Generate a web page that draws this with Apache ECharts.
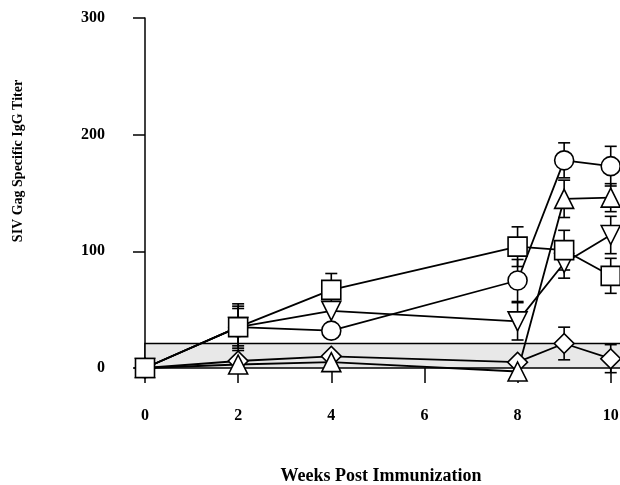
<!DOCTYPE html>
<html><head><meta charset="utf-8">
<script src="https://cdn.jsdelivr.net/npm/echarts@6/dist/echarts.min.js"></script>
<style>html,body{margin:0;padding:0;background:#fff}#c{width:620px;height:485px}</style>
</head><body><div id="c"></div>
<script>
var weeks = [0, 2, 4, 8, 9, 10];
var yTicks = [0, 100, 200, 300];
var circleVals = [0, 35, 32, 75, 178, 173];
var circleErr  = [0, 20, 0, 18, 15, 17];
var squareVals = [0, 35, 67, 104, 101, 79];
var squareErr  = [0, 18, 14, 17, 17, 15];
var upTriVals  = [0, 3, 5, -3, 145, 146];
var upTriErr   = [0, 0, 0, 0, 16, 12];
var downTriVals = [0, 35, 49, 40, 90, 114];
var downTriErr  = [0, 16, 0, 16, 13, 16];
var diamondVals = [0, 6, 10, 5, 21, 8];
var diamondErr  = [0, 0, 0, 0, 14, 12];
var bandRange = [0, 21];

var font = '"Liberation Serif", "Times New Roman", serif';
var chart = echarts.init(document.getElementById('c'));

function pts(vals){ return weeks.map(function(w,i){ return [w, vals[i]]; }); }
function errs(vals, e){ return weeks.map(function(w,i){ return [w, vals[i]-e[i], vals[i]+e[i], e[i]]; }).filter(function(d){return d[3]>0;}); }

function errSeries(vals, e){
  return {
    type: 'custom', z: 2, clip: false,
    data: errs(vals, e),
    renderItem: function(params, api){
      var lo = api.coord([api.value(0), api.value(1)]);
      var hi = api.coord([api.value(0), api.value(2)]);
      var cw = 6;
      var st = {stroke: '#000', lineWidth: 1.6};
      return {type: 'group', children: [
        {type: 'line', shape: {x1: lo[0], y1: lo[1], x2: hi[0], y2: hi[1]}, style: st},
        {type: 'line', shape: {x1: lo[0]-cw, y1: lo[1], x2: lo[0]+cw, y2: lo[1]}, style: st},
        {type: 'line', shape: {x1: hi[0]-cw, y1: hi[1], x2: hi[0]+cw, y2: hi[1]}, style: st}
      ]};
    }
  };
}
function lineSeries(vals, symbol, size, rot){
  return {
    type: 'line', z: 3, clip: false,
    data: pts(vals),
    symbol: symbol, symbolSize: size, symbolRotate: rot || 0,
    showAllSymbol: true,
    lineStyle: {color: '#000', width: 1.8},
    itemStyle: {color: '#fff', borderColor: '#000', borderWidth: 1.6},
    emphasis: {disabled: true}
  };
}

var option = {
  animation: false,
  backgroundColor: '#fff',
  grid: {left: 145, top: 18, height: 350, width: 489, outerBoundsMode: 'none', containLabel: false},
  xAxis: {
    type: 'value', min: 0, max: 10.5, interval: 2,
    axisLine: {show: false},
    axisTick: {show: true, length: 15, lineStyle: {color: '#000', width: 1.5}},
    axisLabel: {margin: 40, color: '#000', fontFamily: font, fontWeight: 'bold', fontSize: 16,
      formatter: function(v){ return v % 2 === 0 ? String(v) : ''; }},
    splitLine: {show: false}
  },
  yAxis: {
    type: 'value', min: yTicks[0], max: yTicks[yTicks.length-1], interval: 100,
    axisLine: {show: true, lineStyle: {color: '#000', width: 1.5}},
    axisTick: {show: true, length: 12, lineStyle: {color: '#000', width: 1.5}},
    axisLabel: {margin: 40, color: '#000', fontFamily: font, fontWeight: 'bold', fontSize: 16},
    splitLine: {show: false}
  },
  graphic: [
    {type: 'text', x: 381, y: 476, style: {text: 'Weeks Post Immunization', fill: '#000', font: 'bold 18px ' + font, align: 'center', verticalAlign: 'middle'}},
    {type: 'text', x: 18, y: 161, rotation: Math.PI/2, style: {text: 'SIV Gag Specific IgG Titer', fill: '#000', font: 'bold 14px ' + font, align: 'center', verticalAlign: 'middle'}}
  ],
  series: [
    {type: 'line', data: [], z: 1, silent: true,
     markArea: {silent: true, itemStyle: {color: '#e8e8e8', borderColor: '#000', borderWidth: 1.5},
       data: [[{yAxis: bandRange[0]}, {yAxis: bandRange[1]}]]}},
    errSeries(diamondVals, diamondErr),
    errSeries(upTriVals, upTriErr),
    errSeries(downTriVals, downTriErr),
    errSeries(circleVals, circleErr),
    errSeries(squareVals, squareErr),
    lineSeries(diamondVals, 'rect', 14, 45),
    lineSeries(upTriVals, 'triangle', 19, 0),
    lineSeries(downTriVals, 'triangle', 19, 180),
    lineSeries(circleVals, 'circle', 19, 0),
    lineSeries(squareVals, 'rect', 19, 0)
  ]
};
chart.setOption(option);
</script>
</body></html>
